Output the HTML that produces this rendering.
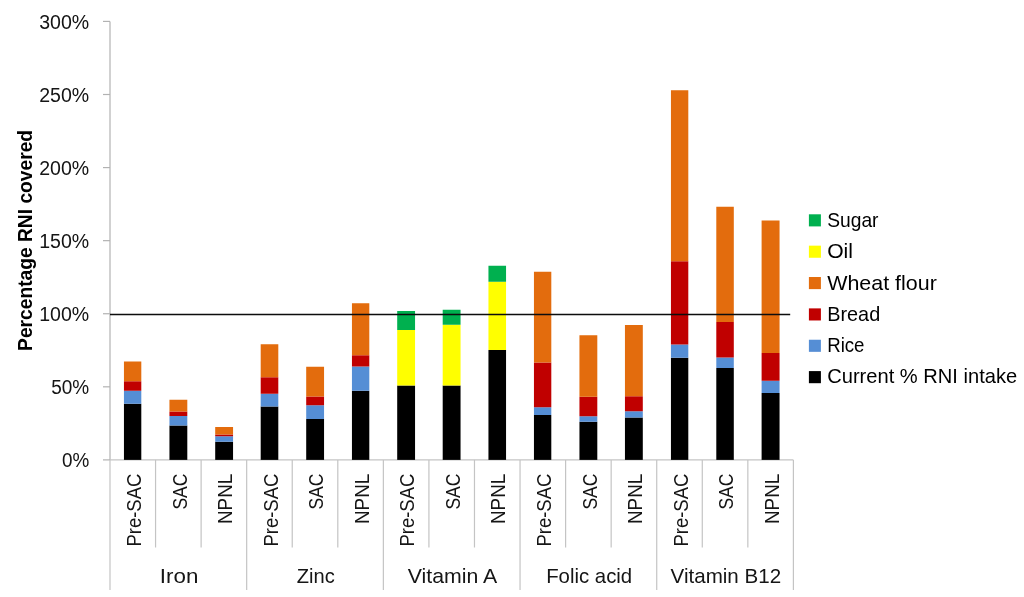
<!DOCTYPE html>
<html lang="en"><head><meta charset="utf-8"><title>Percentage RNI covered</title>
<style>html,body{margin:0;padding:0;background:#fff}svg{display:block}text{font-family:"Liberation Sans",sans-serif;font-size:20.7px;fill:#121212}.b{font-weight:bold;fill:#000}.l{fill:#000;font-size:20.4px}</style></head><body>
<svg width="1024" height="597" viewBox="0 0 1024 597">
<rect width="1024" height="597" fill="#fff"/>
<defs><filter id="soft" x="0" y="0" width="1024" height="597" filterUnits="userSpaceOnUse"><feGaussianBlur stdDeviation="0.7"/></filter></defs>
<g filter="url(#soft)">
<rect width="1024" height="597" fill="#fff"/>
<g stroke="#b2b2b2" stroke-width="1.2" fill="none">
<path d="M110 21.4V459.9"/>
<path d="M103 459.9H110"/>
<path d="M103 386.82H110"/>
<path d="M103 313.74H110"/>
<path d="M103 240.66H110"/>
<path d="M103 167.58H110"/>
<path d="M103 94.5H110"/>
<path d="M103 21.42H110"/>
</g>
<g stroke="#c4c4c4" stroke-width="1.2" fill="none">
<path d="M110 459.9H793.4"/>
<path d="M110 459.9V590"/>
<path d="M155.56 459.9V547.5"/>
<path d="M201.12 459.9V547.5"/>
<path d="M246.68 459.9V590"/>
<path d="M292.24 459.9V547.5"/>
<path d="M337.8 459.9V547.5"/>
<path d="M383.36 459.9V590"/>
<path d="M428.92 459.9V547.5"/>
<path d="M474.48 459.9V547.5"/>
<path d="M520.04 459.9V590"/>
<path d="M565.6 459.9V547.5"/>
<path d="M611.16 459.9V547.5"/>
<path d="M656.72 459.9V590"/>
<path d="M702.28 459.9V547.5"/>
<path d="M747.84 459.9V547.5"/>
<path d="M793.4 459.9V590"/>
</g>
<rect x="123.95" y="403.75" width="17.35" height="56.15" fill="#000000"/>
<rect x="123.95" y="390.75" width="17.35" height="13" fill="#558ED5"/>
<rect x="123.95" y="381.25" width="17.35" height="9.5" fill="#C00000"/>
<rect x="123.95" y="361.5" width="17.35" height="19.75" fill="#E36C0A"/>
<rect x="169.45" y="425.5" width="17.85" height="34.4" fill="#000000"/>
<rect x="169.45" y="416" width="17.85" height="9.5" fill="#558ED5"/>
<rect x="169.45" y="411.5" width="17.85" height="4.5" fill="#C00000"/>
<rect x="169.45" y="399.75" width="17.85" height="11.75" fill="#E36C0A"/>
<rect x="215.2" y="441.75" width="17.85" height="18.15" fill="#000000"/>
<rect x="215.2" y="436.25" width="17.85" height="5.5" fill="#558ED5"/>
<rect x="215.2" y="434.5" width="17.85" height="1.75" fill="#C00000"/>
<rect x="215.2" y="427" width="17.85" height="7.5" fill="#E36C0A"/>
<rect x="260.7" y="406.5" width="17.6" height="53.4" fill="#000000"/>
<rect x="260.7" y="393.75" width="17.6" height="12.75" fill="#558ED5"/>
<rect x="260.7" y="377.25" width="17.6" height="16.5" fill="#C00000"/>
<rect x="260.7" y="344.25" width="17.6" height="33" fill="#E36C0A"/>
<rect x="306.2" y="419" width="17.85" height="40.9" fill="#000000"/>
<rect x="306.2" y="405.25" width="17.85" height="13.75" fill="#558ED5"/>
<rect x="306.2" y="396.5" width="17.85" height="8.75" fill="#C00000"/>
<rect x="306.2" y="366.75" width="17.85" height="29.75" fill="#E36C0A"/>
<rect x="351.95" y="390.75" width="17.35" height="69.15" fill="#000000"/>
<rect x="351.95" y="366.5" width="17.35" height="24.25" fill="#558ED5"/>
<rect x="351.95" y="355.25" width="17.35" height="11.25" fill="#C00000"/>
<rect x="351.95" y="303.25" width="17.35" height="52" fill="#E36C0A"/>
<rect x="397.2" y="385.5" width="17.85" height="74.4" fill="#000000"/>
<rect x="397.2" y="330" width="17.85" height="55.5" fill="#FFFF00"/>
<rect x="397.2" y="311" width="17.85" height="19" fill="#00B050"/>
<rect x="442.7" y="385.5" width="17.85" height="74.4" fill="#000000"/>
<rect x="442.7" y="324.75" width="17.85" height="60.75" fill="#FFFF00"/>
<rect x="442.7" y="309.75" width="17.85" height="15" fill="#00B050"/>
<rect x="488.45" y="350" width="17.6" height="109.9" fill="#000000"/>
<rect x="488.45" y="281.75" width="17.6" height="68.25" fill="#FFFF00"/>
<rect x="488.45" y="265.75" width="17.6" height="16" fill="#00B050"/>
<rect x="533.95" y="415" width="17.35" height="44.9" fill="#000000"/>
<rect x="533.95" y="407.25" width="17.35" height="7.75" fill="#558ED5"/>
<rect x="533.95" y="362.5" width="17.35" height="44.75" fill="#C00000"/>
<rect x="533.95" y="271.75" width="17.35" height="90.75" fill="#E36C0A"/>
<rect x="579.45" y="421.75" width="17.85" height="38.15" fill="#000000"/>
<rect x="579.45" y="416.25" width="17.85" height="5.5" fill="#558ED5"/>
<rect x="579.45" y="396.75" width="17.85" height="19.5" fill="#C00000"/>
<rect x="579.45" y="335.25" width="17.85" height="61.5" fill="#E36C0A"/>
<rect x="624.95" y="417.5" width="17.85" height="42.4" fill="#000000"/>
<rect x="624.95" y="411.25" width="17.85" height="6.25" fill="#558ED5"/>
<rect x="624.95" y="396.25" width="17.85" height="15" fill="#C00000"/>
<rect x="624.95" y="325" width="17.85" height="71.25" fill="#E36C0A"/>
<rect x="670.95" y="357.75" width="17.35" height="102.15" fill="#000000"/>
<rect x="670.95" y="344.5" width="17.35" height="13.25" fill="#558ED5"/>
<rect x="670.95" y="261.25" width="17.35" height="83.25" fill="#C00000"/>
<rect x="670.95" y="90.25" width="17.35" height="171" fill="#E36C0A"/>
<rect x="716.3" y="368" width="17.5" height="91.9" fill="#000000"/>
<rect x="716.3" y="357.5" width="17.5" height="10.5" fill="#558ED5"/>
<rect x="716.3" y="322" width="17.5" height="35.5" fill="#C00000"/>
<rect x="716.3" y="206.75" width="17.5" height="115.25" fill="#E36C0A"/>
<rect x="761.6" y="393" width="17.95" height="66.9" fill="#000000"/>
<rect x="761.6" y="380.75" width="17.95" height="12.25" fill="#558ED5"/>
<rect x="761.6" y="353" width="17.95" height="27.75" fill="#C00000"/>
<rect x="761.6" y="220.5" width="17.95" height="132.5" fill="#E36C0A"/>
<path d="M110 314.5H790.2" stroke="#0a0a0a" stroke-width="1.45" fill="none"/>
<text x="89.2" y="467" text-anchor="end" textLength="27.3" lengthAdjust="spacingAndGlyphs">0%</text>
<text x="89.2" y="394" text-anchor="end" textLength="38" lengthAdjust="spacingAndGlyphs">50%</text>
<text x="89.2" y="321" text-anchor="end" textLength="50" lengthAdjust="spacingAndGlyphs">100%</text>
<text x="89.2" y="248" text-anchor="end" textLength="50" lengthAdjust="spacingAndGlyphs">150%</text>
<text x="89.2" y="175" text-anchor="end" textLength="50" lengthAdjust="spacingAndGlyphs">200%</text>
<text x="89.2" y="102" text-anchor="end" textLength="50" lengthAdjust="spacingAndGlyphs">250%</text>
<text x="89.2" y="29" text-anchor="end" textLength="50" lengthAdjust="spacingAndGlyphs">300%</text>
<text class="b" transform="translate(31.5 350.9) rotate(-90)" textLength="221" lengthAdjust="spacingAndGlyphs">Percentage RNI covered</text>
<text transform="translate(140.98 473.6) rotate(-90)" text-anchor="end" textLength="73" lengthAdjust="spacingAndGlyphs">Pre-SAC</text>
<text transform="translate(186.54 473.6) rotate(-90)" text-anchor="end" textLength="36" lengthAdjust="spacingAndGlyphs">SAC</text>
<text transform="translate(232.1 473.6) rotate(-90)" text-anchor="end" textLength="50.5" lengthAdjust="spacingAndGlyphs">NPNL</text>
<text transform="translate(277.66 473.6) rotate(-90)" text-anchor="end" textLength="73" lengthAdjust="spacingAndGlyphs">Pre-SAC</text>
<text transform="translate(323.22 473.6) rotate(-90)" text-anchor="end" textLength="36" lengthAdjust="spacingAndGlyphs">SAC</text>
<text transform="translate(368.78 473.6) rotate(-90)" text-anchor="end" textLength="50.5" lengthAdjust="spacingAndGlyphs">NPNL</text>
<text transform="translate(414.34 473.6) rotate(-90)" text-anchor="end" textLength="73" lengthAdjust="spacingAndGlyphs">Pre-SAC</text>
<text transform="translate(459.9 473.6) rotate(-90)" text-anchor="end" textLength="36" lengthAdjust="spacingAndGlyphs">SAC</text>
<text transform="translate(505.46 473.6) rotate(-90)" text-anchor="end" textLength="50.5" lengthAdjust="spacingAndGlyphs">NPNL</text>
<text transform="translate(551.02 473.6) rotate(-90)" text-anchor="end" textLength="73" lengthAdjust="spacingAndGlyphs">Pre-SAC</text>
<text transform="translate(596.58 473.6) rotate(-90)" text-anchor="end" textLength="36" lengthAdjust="spacingAndGlyphs">SAC</text>
<text transform="translate(642.14 473.6) rotate(-90)" text-anchor="end" textLength="50.5" lengthAdjust="spacingAndGlyphs">NPNL</text>
<text transform="translate(687.7 473.6) rotate(-90)" text-anchor="end" textLength="73" lengthAdjust="spacingAndGlyphs">Pre-SAC</text>
<text transform="translate(733.26 473.6) rotate(-90)" text-anchor="end" textLength="36" lengthAdjust="spacingAndGlyphs">SAC</text>
<text transform="translate(778.82 473.6) rotate(-90)" text-anchor="end" textLength="50.5" lengthAdjust="spacingAndGlyphs">NPNL</text>
<text x="179.14" y="583" text-anchor="middle" textLength="38.5" lengthAdjust="spacingAndGlyphs">Iron</text>
<text x="315.82" y="583" text-anchor="middle" textLength="38" lengthAdjust="spacingAndGlyphs">Zinc</text>
<text x="452.5" y="583" text-anchor="middle" textLength="89.5" lengthAdjust="spacingAndGlyphs">Vitamin A</text>
<text x="589.18" y="583" text-anchor="middle" textLength="86" lengthAdjust="spacingAndGlyphs">Folic acid</text>
<text x="725.86" y="583" text-anchor="middle" textLength="110.5" lengthAdjust="spacingAndGlyphs">Vitamin B12</text>
<rect x="808.9" y="214.3" width="12" height="12.1" fill="#00B050"/>
<text class="l" x="827.2" y="226.7" textLength="51.3" lengthAdjust="spacingAndGlyphs">Sugar</text>
<rect x="808.9" y="245.66" width="12" height="12.1" fill="#FFFF00"/>
<text class="l" x="827.2" y="258" textLength="25.8" lengthAdjust="spacingAndGlyphs">Oil</text>
<rect x="808.9" y="277.02" width="12" height="12.1" fill="#E36C0A"/>
<text class="l" x="827.2" y="289.7" textLength="109.6" lengthAdjust="spacingAndGlyphs">Wheat flour</text>
<rect x="808.9" y="308.38" width="12" height="12.1" fill="#C00000"/>
<text class="l" x="827.2" y="320.8" textLength="53" lengthAdjust="spacingAndGlyphs">Bread</text>
<rect x="808.9" y="339.74" width="12" height="12.1" fill="#558ED5"/>
<text class="l" x="827.2" y="351.9" textLength="37.3" lengthAdjust="spacingAndGlyphs">Rice</text>
<rect x="808.9" y="371.1" width="12" height="12.1" fill="#000000"/>
<text class="l" x="827.2" y="383.4" textLength="190" lengthAdjust="spacingAndGlyphs">Current % RNI intake</text>
</g>
</svg></body></html>
